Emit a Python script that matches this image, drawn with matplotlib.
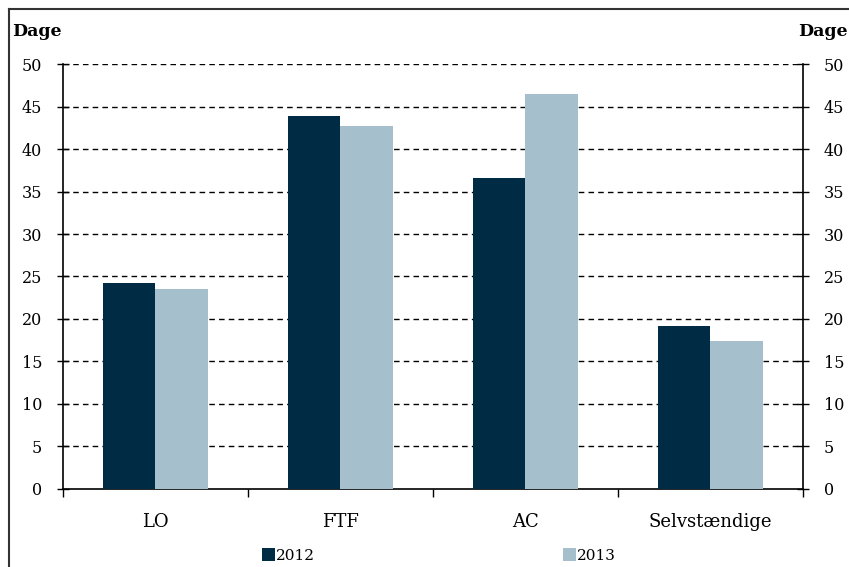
import matplotlib.pyplot as plt
import matplotlib.lines as mlines
import numpy as np

plt.rcParams['font.family'] = ['DejaVu Serif']

categories = ['LO', 'FTF', 'AC', 'Selvstændige']
val_2012 = [24.2, 43.9, 36.6, 19.2]
val_2013 = [23.5, 42.7, 46.5, 17.4]
yticks = [0, 5, 10, 15, 20, 25, 30, 35, 40, 45, 50]

dark = '#002b45'
light = '#a5bfcd'

fig = plt.figure(figsize=(8.49, 5.67), dpi=100)
ax = fig.add_axes([0.0742, 0.1376, 0.8716, 0.7495])

x = np.arange(len(categories))
w = 0.286
ax.bar(x - w/2, val_2012, w, color=dark, label='2012', zorder=3)
ax.bar(x + w/2, val_2013, w, color=light, label='2013', zorder=3)

ax.set_xlim(-0.5, 3.5)
ax.set_ylim(0, 50)
ax.set_yticks(yticks)
for y in yticks[1:]:
    ax.axhline(y, color='black', lw=1, ls=(0, (4, 3)), zorder=1)

ax.set_xticks(np.arange(-0.5, 4, 1))
ax.set_xticklabels([])
ax.set_xticks(x, minor=True)
ax.set_xticklabels(categories, minor=True, fontsize=13)
ax.tick_params(axis='x', which='major', direction='out', length=6, width=1)
ax.tick_params(axis='x', which='minor', length=0, pad=17)
ax.tick_params(axis='y', direction='inout', length=8, width=1, labelsize=11.5,
               right=True, labelright=True, pad=11)

ax.spines['top'].set_visible(False)
for s in ['left', 'right', 'bottom']:
    ax.spines[s].set_linewidth(1.2)

fig.text(0.014, 0.944, 'Dage', fontsize=12.5, fontweight='bold', va='center')
fig.text(0.999, 0.944, 'Dage', fontsize=12.5, fontweight='bold', va='center', ha='right')

# frame
fig.add_artist(mlines.Line2D([0.0105, 0.0105], [0, 0.984], color='#333333', lw=1.5))
fig.add_artist(mlines.Line2D([0.0105, 1], [0.984, 0.984], color='#333333', lw=1.5))

leg = fig.legend(loc='center', bbox_to_anchor=(0.517, 0.02), ncol=2, frameon=False,
                 handlelength=0.85, handleheight=0.9, handletextpad=0.05,
                 columnspacing=16.2, fontsize=11)

fig.savefig('out.png', dpi=100)
